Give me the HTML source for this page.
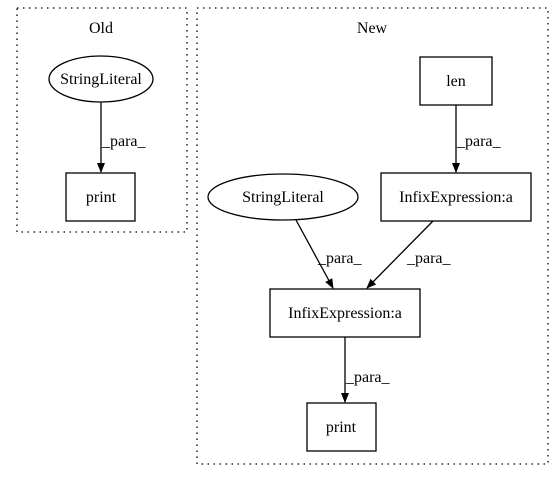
<!DOCTYPE html>
<html><head><style>html,body{margin:0;padding:0;background:#fff}svg{display:block}text{font-family:"Liberation Serif",serif;font-size:16px;fill:#000}</style></head>
<body>
<svg width="557" height="480" viewBox="0 0 557 480" xmlns="http://www.w3.org/2000/svg">
<defs><marker id="a" markerWidth="10" markerHeight="10" refX="9" refY="5" orient="auto" markerUnits="userSpaceOnUse"><path d="M0,1 L10,5 L0,9 z" fill="#000"/></marker></defs>
<g fill="none" stroke="#000" stroke-width="1.3">
<rect x="17" y="8" width="170" height="224" stroke-dasharray="1.5,4.5"/>
<rect x="197" y="8" width="351" height="456" stroke-dasharray="1.5,4.5"/>
<ellipse cx="101" cy="79" rx="52" ry="23"/>
<rect x="66" y="173" width="69" height="48"/>
<line x1="101" y1="102" x2="101" y2="172" marker-end="url(#a)"/>
<rect x="420" y="57" width="72" height="48"/>
<rect x="381" y="173" width="150" height="48"/>
<ellipse cx="283" cy="197" rx="75" ry="23"/>
<rect x="270" y="289" width="150" height="48"/>
<rect x="307" y="403" width="69" height="48"/>
<line x1="456" y1="105" x2="456" y2="172" marker-end="url(#a)"/>
<line x1="296" y1="220" x2="333" y2="288" marker-end="url(#a)"/>
<line x1="433" y1="221" x2="367" y2="288" marker-end="url(#a)"/>
<line x1="345" y1="337" x2="345" y2="402" marker-end="url(#a)"/>
</g>
<g text-anchor="middle">
<text x="101" y="33">Old</text>
<text x="372" y="33">New</text>
<text x="101" y="84">StringLiteral</text>
<text x="101" y="202">print</text>
<text x="456" y="86">len</text>
<text x="456" y="202">InfixExpression:a</text>
<text x="283" y="202">StringLiteral</text>
<text x="345" y="318">InfixExpression:a</text>
<text x="341" y="432">print</text>
</g>
<text x="102" y="146">_para_</text>
<text x="457" y="146">_para_</text>
<text x="318" y="263">_para_</text>
<text x="407" y="263">_para_</text>
<text x="346" y="382">_para_</text>
</svg>
</body></html>
